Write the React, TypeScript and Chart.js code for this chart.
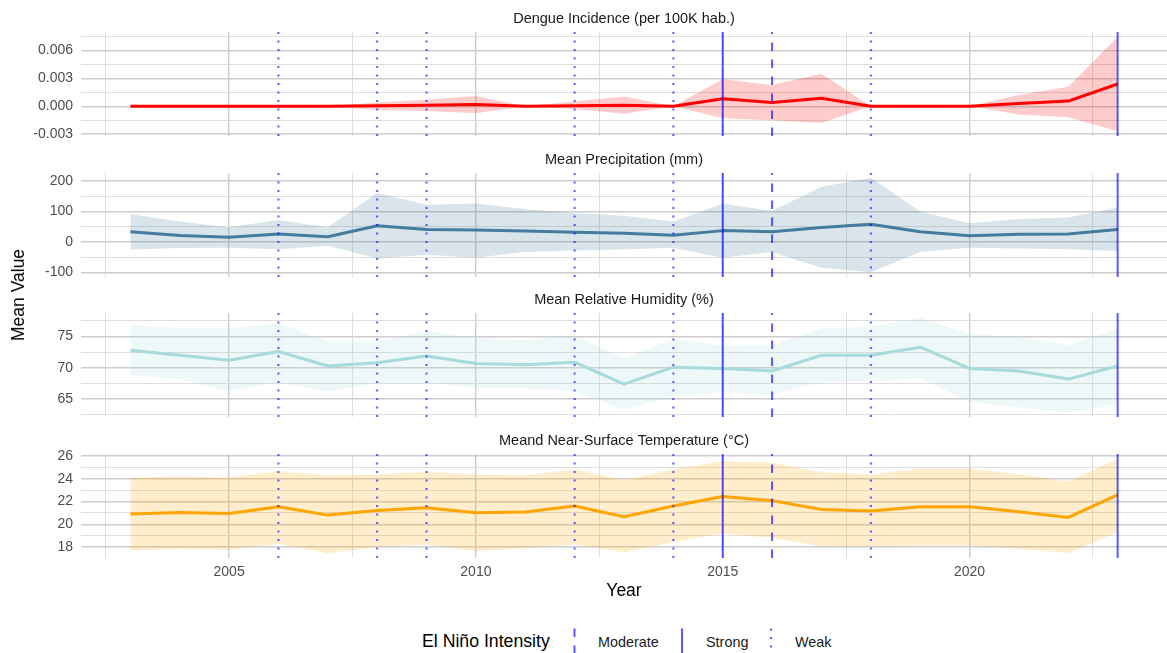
import React, { useEffect, useRef } from 'react';
import { Chart, registerables } from 'chart.js';

Chart.register(...registerables);

// ---------------------------------------------------------------------------
// Data
// ---------------------------------------------------------------------------
const years = [
  2003, 2004, 2005, 2006, 2007, 2008, 2009, 2010, 2011, 2012, 2013,
  2014, 2015, 2016, 2017, 2018, 2019, 2020, 2021, 2022, 2023,
];

const dengueMean = [0, 0, 0, 0, 0, 0.00005, 0.0001, 0.0002, 0, 0.00005, 0.0001, 0, 0.0008, 0.0004, 0.00087, 0, 0, 0, 0.0003, 0.00056, 0.0024];
const dengueLow = [0, 0, 0, 0, 0, -0.0004, -0.0005, -0.00075, 0, -0.0003, -0.0008, 0, -0.0013, -0.0015, -0.0018, 0, 0, 0, -0.0009, -0.0012, -0.0027];
const dengueHigh = [0, 0, 0, 0, 0, 0.0004, 0.0007, 0.0011, 0, 0.0005, 0.00105, 0, 0.0029, 0.0023, 0.0035, 0, 0, 0, 0.0012, 0.0021, 0.0075];

const precipMean = [33, 21, 15, 26, 17, 53, 41, 39, 36, 32, 28, 22, 37, 33, 47, 58, 33, 20, 25, 26, 41];
const precipLow = [-25, -20, -19, -24, -13, -55, -42, -52, -33, -28, -25, -19, -52, -33, -85, -100, -33, -19, -22, -24, -30];
const precipHigh = [92, 67, 48, 72, 48, 161, 122, 126, 108, 94, 86, 67, 125, 102, 181, 211, 100, 61, 75, 80, 113];

const humidMean = [72.8, 72.0, 71.2, 72.6, 70.3, 70.8, 71.9, 70.7, 70.5, 70.9, 67.4, 70.1, 69.9, 69.5, 72.0, 72.0, 73.3, 69.9, 69.5, 68.2, 70.3];
const humidLow = [68.8, 68.2, 66.2, 67.7, 66.2, 67.5, 67.6, 66.8, 66.7, 66.3, 63.3, 65.5, 66.1, 65.7, 67.7, 67.8, 68.3, 64.6, 63.7, 62.9, 64.1];
const humidHigh = [76.8, 76.3, 76.3, 77.1, 74.2, 74.2, 75.9, 74.8, 74.4, 75.2, 71.5, 74.6, 73.5, 73.6, 76.3, 76.5, 78.0, 75.4, 74.9, 73.6, 76.1];

const tempMean = [20.89, 21.04, 20.95, 21.54, 20.8, 21.2, 21.45, 21.0, 21.07, 21.6, 20.65, 21.6, 22.43, 22.07, 21.3, 21.16, 21.54, 21.54, 21.1, 20.6, 22.58];
const tempLow = [17.7, 17.84, 17.75, 18.28, 17.45, 18.0, 18.22, 17.63, 17.9, 18.22, 17.54, 18.43, 19.17, 18.82, 18.04, 18.04, 18.13, 18.13, 17.84, 17.48, 19.31];
const tempHigh = [24.1, 24.2, 24.1, 24.65, 24.27, 24.36, 24.6, 24.36, 24.27, 24.8, 23.9, 24.8, 25.54, 25.4, 24.56, 24.36, 24.86, 24.86, 24.36, 23.76, 25.75];

// Axis breaks
const dengueTicks = [-0.003, 0, 0.003, 0.006];
const precipTicks = [-100, 0, 100, 200];
const humidTicks = [65, 70, 75];
const tempTicks = [18, 20, 22, 24, 26];
const yearTicks = [2005, 2010, 2015, 2020];
const yearRange = [2002, 2024];

// El Niño years by intensity
const weakYears = [2006, 2008, 2009, 2012, 2014, 2018];
const moderateYears = [2016];
const strongYears = [2015, 2023];

// ---------------------------------------------------------------------------
// Styling / layout
// ---------------------------------------------------------------------------
const FONT = '"Liberation Sans", Arial, Helvetica, sans-serif';
const WIDTH = 1167;
const AXIS_W = 81;
const TITLE_BOX = 22;
const PANEL_H = 104;
const PANEL_TOPS = [32, 173, 313, 454];
const X_AXIS_H = 45;
const BOTTOM_PAD = 17; // room left under the upper panels (y tick label overhang)
const MAJOR_GRID = '#cdcdcd';
const MINOR_GRID = '#dedede';
const ENSO_COLOR = 'rgba(0, 0, 255, 0.65)';
const DASHED = [8.5, 8.5];
const DOTTED = [2, 6.5];

const panels = [
  { title: 'Dengue Incidence (per 100K hab.)', mean: dengueMean, low: dengueLow, high: dengueHigh, ticks: dengueTicks, digits: 3, line: '#FF0000', band: 'rgba(255, 0, 0, 0.2)' },
  { title: 'Mean Precipitation (mm)', mean: precipMean, low: precipLow, high: precipHigh, ticks: precipTicks, digits: 0, line: '#457B9D', band: 'rgba(69, 123, 157, 0.2)' },
  { title: 'Mean Relative Humidity (%)', mean: humidMean, low: humidLow, high: humidHigh, ticks: humidTicks, digits: 0, line: '#A8DADC', band: 'rgba(168, 218, 220, 0.2)' },
  { title: 'Meand Near-Surface Temperature (°C)', mean: tempMean, low: tempLow, high: tempHigh, ticks: tempTicks, digits: 0, line: '#FFA500', band: 'rgba(255, 165, 0, 0.2)' },
];

type GridTick = { value: number; isMajor: boolean };

// Major breaks plus the minor breaks halfway between them, kept inside [lo, hi].
function gridTicks(majors: number[], lo: number, hi: number): GridTick[] {
  const step = majors[1] - majors[0];
  const out: GridTick[] = [];
  majors.forEach((v) => {
    if (v >= lo && v <= hi) out.push({ value: v, isMajor: true });
  });
  for (let k = -1; k < majors.length; k++) {
    const m = majors[0] + (k + 0.5) * step;
    if (m >= lo && m <= hi) out.push({ value: m, isMajor: false });
  }
  return out.sort((a, b) => a.value - b.value);
}

const gridColor = (c: any) => (c.tick && c.tick.isMajor ? MAJOR_GRID : MINOR_GRID);
const gridWidth = (c: any) => (c.tick && c.tick.isMajor ? 1.4 : 1);

function makeConfig(p: (typeof panels)[number], bottom: boolean): any {
  const lo = Math.min(...p.low);
  const hi = Math.max(...p.high);
  const pad = (hi - lo) * 0.05;
  const yMin = lo - pad;
  const yMax = hi + pad;
  const pts = (arr: number[]) => years.map((x, i) => ({ x, y: arr[i] }));

  const vline = (yr: number, dash: number[]) => ({
    data: [
      { x: yr, y: yMin },
      { x: yr, y: yMax },
    ],
    borderColor: ENSO_COLOR,
    borderWidth: 2,
    borderDash: dash,
    borderCapStyle: 'butt',
    pointRadius: 0,
    fill: false,
    order: 0,
  });

  const datasets: any[] = [
    { data: pts(p.low), borderColor: 'transparent', borderWidth: 0, pointRadius: 0, fill: false, order: 3 },
    { data: pts(p.high), borderColor: 'transparent', borderWidth: 0, pointRadius: 0, fill: '-1', backgroundColor: p.band, order: 3 },
    { data: pts(p.mean), borderColor: p.line, borderWidth: 3, pointRadius: 0, fill: false, order: 2, borderJoinStyle: 'round' },
    ...weakYears.map((y) => vline(y, DOTTED)),
    ...moderateYears.map((y) => vline(y, DASHED)),
    ...strongYears.map((y) => vline(y, [])),
  ];

  return {
    type: 'line',
    data: { datasets },
    options: {
      animation: false,
      responsive: false,
      events: [],
      layout: { padding: { left: 0, right: 0, top: 0, bottom: bottom ? 0 : BOTTOM_PAD } },
      elements: { line: { tension: 0 } },
      plugins: {
        legend: { display: false },
        tooltip: { enabled: false },
        title: {
          display: true,
          text: p.title,
          fullSize: false,
          color: '#1a1a1a',
          font: { family: FONT, size: 14.5, weight: 'normal', lineHeight: 1.2 },
          padding: { top: 0.3, bottom: 4.3 },
        },
      },
      scales: {
        x: {
          type: 'linear',
          min: yearRange[0],
          max: yearRange[1],
          afterBuildTicks: (s: any) => {
            s.ticks = gridTicks(yearTicks, s.min, s.max);
          },
          afterFit: (s: any) => {
            s.height = bottom ? X_AXIS_H : 0;
          },
          border: { display: false },
          grid: { drawTicks: false, color: gridColor, lineWidth: gridWidth },
          ticks: {
            display: bottom,
            autoSkip: false,
            maxRotation: 0,
            padding: 6,
            color: '#4d4d4d',
            font: { family: FONT, size: 14 },
            callback: (v: number, i: number, ts: any[]) => (ts[i].isMajor ? String(v) : ''),
          },
          title: {
            display: bottom,
            text: 'Year',
            color: '#000000',
            font: { family: FONT, size: 17.5 },
            padding: { top: 0, bottom: 1.5 },
          },
        },
        y: {
          type: 'linear',
          position: 'left',
          min: yMin,
          max: yMax,
          afterBuildTicks: (s: any) => {
            s.ticks = gridTicks(p.ticks, s.min, s.max);
          },
          afterFit: (s: any) => {
            s.width = AXIS_W;
          },
          border: { display: false },
          grid: { drawTicks: false, color: gridColor, lineWidth: gridWidth },
          ticks: {
            autoSkip: false,
            padding: 8,
            color: '#4d4d4d',
            font: { family: FONT, size: 14 },
            callback: (v: number, i: number, ts: any[]) => (ts[i].isMajor ? v.toFixed(p.digits) : ''),
          },
        },
      },
    },
  };
}

const legendItems = [
  { label: 'Moderate', dash: DASHED, keyX: 574.5, textX: 598 },
  { label: 'Strong', dash: [] as number[], keyX: 682, textX: 706 },
  { label: 'Weak', dash: DOTTED, keyX: 771, textX: 795 },
];

export default function App() {
  const canvases = useRef<(HTMLCanvasElement | null)[]>([]);

  useEffect(() => {
    const charts = panels.map(
      (p, i) => new Chart(canvases.current[i] as HTMLCanvasElement, makeConfig(p, i === panels.length - 1)),
    );
    return () => charts.forEach((c) => c.destroy());
  }, []);

  return (
    <div
      style={{
        position: 'absolute',
        left: 0,
        top: 0,
        width: WIDTH,
        height: 653,
        overflow: 'hidden',
        background: '#ffffff',
        fontFamily: FONT,
      }}
    >
      {panels.map((p, i) => {
        const bottom = i === panels.length - 1;
        const h = TITLE_BOX + PANEL_H + (bottom ? X_AXIS_H : BOTTOM_PAD);
        return (
          <canvas
            key={p.title}
            ref={(el) => {
              canvases.current[i] = el;
            }}
            width={WIDTH}
            height={h}
            style={{ position: 'absolute', left: 0, top: PANEL_TOPS[i] - TITLE_BOX, width: WIDTH, height: h }}
          />
        );
      })}

      <div
        style={{
          position: 'absolute',
          left: 18,
          top: (PANEL_TOPS[0] + PANEL_TOPS[3] + PANEL_H) / 2,
          transform: 'translate(-50%, -50%) rotate(-90deg)',
          fontSize: 17.5,
          lineHeight: '20px',
          whiteSpace: 'nowrap',
          color: '#000',
        }}
      >
        Mean Value
      </div>

      <div style={{ position: 'absolute', left: 422, top: 631, fontSize: 17.7, lineHeight: '20px', color: '#000', whiteSpace: 'nowrap' }}>
        El Niño Intensity
      </div>
      <svg width={WIDTH} height={40} style={{ position: 'absolute', left: 0, top: 620 }}>
        {legendItems.map((it) => (
          <line
            key={it.label}
            x1={it.keyX}
            x2={it.keyX}
            y1={8.5}
            y2={40}
            stroke={ENSO_COLOR}
            strokeWidth={2}
            strokeDasharray={it.dash.length ? it.dash.join(' ') : undefined}
          />
        ))}
      </svg>
      {legendItems.map((it) => (
        <div
          key={it.label}
          style={{ position: 'absolute', left: it.textX, top: 634, fontSize: 14.4, lineHeight: '16px', color: '#1a1a1a', whiteSpace: 'nowrap' }}
        >
          {it.label}
        </div>
      ))}
    </div>
  );
}
